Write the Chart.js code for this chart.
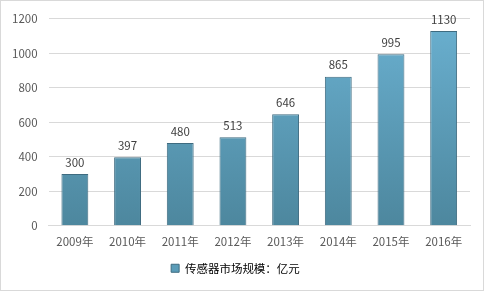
<!DOCTYPE html>
<html>
<head>
<meta charset="utf-8">
<script src="https://cdn.jsdelivr.net/npm/chart.js@4/dist/chart.umd.min.js"></script>
<style>
  html, body { margin: 0; padding: 0; background: #fff; }
  #wrap { position: relative; width: 482px; height: 289px; border: 1px solid #d9d9d9; }
</style>
</head>
<body>
<div id="wrap"><canvas id="chart" width="482" height="289"></canvas></div>
<script>
// chart data
const years = ['2009年', '2010年', '2011年', '2012年', '2013年', '2014年', '2015年', '2016年'];
const marketSize = [300, 397, 480, 513, 646, 865, 995, 1130];
const seriesName = '传感器市场规模：亿元';
const yTicks = [0, 200, 400, 600, 800, 1000, 1200];

const fontFamily = '"Noto Sans CJK SC", "Liberation Sans", sans-serif';

// draw value labels above each bar
const barLabels = {
    id: 'barLabels',
    afterDatasetsDraw(chart) {
        const ctx = chart.ctx;
        const meta = chart.getDatasetMeta(0);
        ctx.save();
        ctx.font = '11.5px ' + fontFamily;
        ctx.fillStyle = '#404040';
        ctx.textAlign = 'center';
        ctx.textBaseline = 'bottom';
        meta.data.forEach((bar, i) => {
            ctx.fillText(String(marketSize[i]), bar.x, bar.y - 6);
        });
        ctx.restore();
    }
};

function barFill(context) {
    const chart = context.chart;
    const area = chart.chartArea;
    if (!area) return '#5fa2bf';
    const g = chart.ctx.createLinearGradient(0, area.top, 0, area.bottom);
    g.addColorStop(0, '#6ab0d0');
    g.addColorStop(1, '#4d879e');
    return g;
}

new Chart(document.getElementById('chart'), {
    type: 'bar',
    data: {
        labels: years,
        datasets: [{
            label: seriesName,
            data: marketSize,
            backgroundColor: barFill,
            borderColor: '#3e6b80',
            borderWidth: 1,
            categoryPercentage: 1.0,
            barPercentage: 0.51
        }]
    },
    options: {
        responsive: false,
        animation: false,
        layout: { padding: { left: 0, right: 13, top: 4, bottom: 6 } },
        plugins: {
            legend: {
                position: 'bottom',
                labels: {
                    color: '#595959',
                    font: { size: 11.5, family: fontFamily },
                    boxWidth: 8,
                    boxHeight: 8,
                    padding: 5,
                    generateLabels(chart) {
                        return [{
                            text: seriesName,
                            fillStyle: '#5a9cb8',
                            strokeStyle: '#3e6b80',
                            lineWidth: 1,
                            datasetIndex: 0
                        }];
                    }
                }
            },
            tooltip: { enabled: false }
        },
        scales: {
            x: {
                grid: { display: false, drawTicks: false },
                border: { color: '#d9d9d9' },
                ticks: {
                    color: '#595959',
                    font: { size: 11.5, family: fontFamily },
                    padding: 9,
                    maxRotation: 0
                }
            },
            y: {
                min: 0,
                max: 1200,
                afterBuildTicks(axis) {
                    axis.ticks = yTicks.map(v => ({ value: v }));
                },
                grid: { color: '#d9d9d9', drawTicks: false },
                border: { display: false },
                ticks: {
                    color: '#595959',
                    font: { size: 11.5, family: fontFamily },
                    padding: 11,
                    callback: v => String(v)
                }
            }
        }
    },
    plugins: [barLabels]
});
</script>
</body>
</html>
